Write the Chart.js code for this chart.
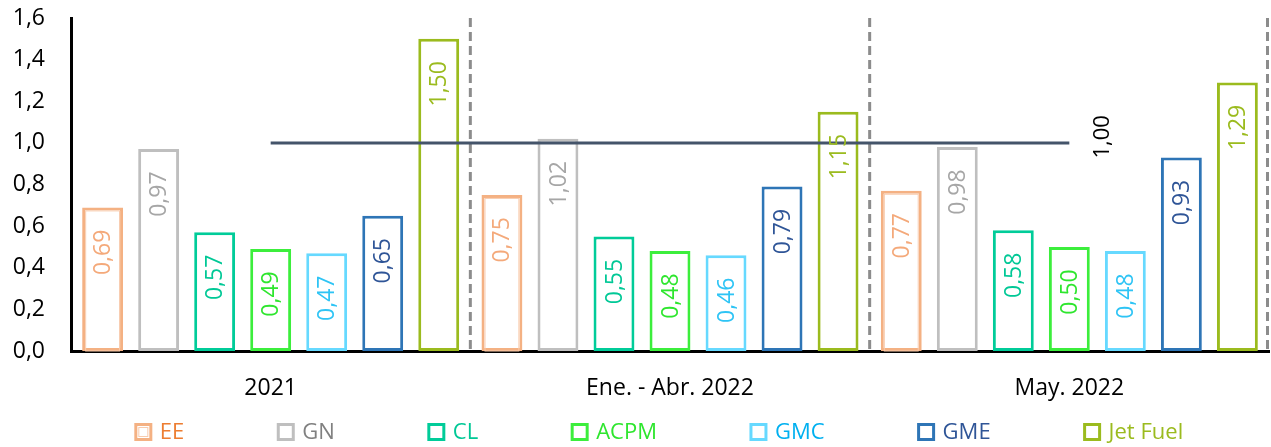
<!DOCTYPE html>
<html>
<head>
<meta charset="utf-8">
<script src="https://cdn.jsdelivr.net/npm/chart.js@4.4.1/dist/chart.umd.min.js"></script>
<style>
  html, body { margin: 0; padding: 0; background: #ffffff; }
  #wrap { width: 1271px; height: 447px; position: relative; }
</style>
</head>
<body>
<div id="wrap"><canvas id="c" width="1271" height="447"></canvas></div>
<script>
const categories = ["2021", "Ene. - Abr. 2022", "May. 2022"];
const seriesNames = ["EE", "GN", "CL", "ACPM", "GMC", "GME", "Jet Fuel"];
const valuesEE = [0.69, 0.75, 0.77];
const valuesGN = [0.97, 1.02, 0.98];
const valuesCL = [0.57, 0.55, 0.58];
const valuesACPM = [0.49, 0.48, 0.50];
const valuesGMC = [0.47, 0.46, 0.48];
const valuesGME = [0.65, 0.79, 0.93];
const valuesJet = [1.50, 1.15, 1.29];
const referenceValue = 1.00;
const referenceLabel = "1,00";
const yTickLabels = ["0,0", "0,2", "0,4", "0,6", "0,8", "1,0", "1,2", "1,4", "1,6"];

const borderColors = ["#F4B183", "#BFBFBF", "#00CC99", "#3CEE3C", "#66D9FF", "#2E75B6", "#9BBB1E"];
const labelColors  = ["#F4A97A", "#A6A6A6", "#00C896", "#2EE62E", "#2EC4F5", "#2F5597", "#9BBB1E"];
const legendTextColors = ["#ED7D31", "#808080", "#00C896", "#2EE62E", "#00B0F0", "#2F5597", "#9BBB1E"];
const allValues = [valuesEE, valuesGN, valuesCL, valuesACPM, valuesGMC, valuesGME, valuesJet];

const FONT = "'Open Sans', sans-serif";
const fmt = (v, d) => v.toFixed(d).replace('.', ',');

const datasets = seriesNames.map((name, i) => ({
  label: name,
  data: allValues[i],
  backgroundColor: "#ffffff",
  borderColor: borderColors[i],
  borderWidth: 3,
  borderSkipped: false,
  categoryPercentage: 0.982,
  barPercentage: 0.73
}));

function drawLegend(chart) {
  const ctx = chart.ctx;
  ctx.save();
  ctx.font = "22px " + FONT;
  ctx.textBaseline = "middle";
  ctx.textAlign = "left";
  const box = 15, gapText = 9, gapItem = 94;
  const widths = seriesNames.map(n => box + gapText + ctx.measureText(n).width);
  const total = widths.reduce((a, b) => a + b, 0) + gapItem * (seriesNames.length - 1);
  let x = (chart.width - total) / 2 + 24;
  const cy = 432;
  seriesNames.forEach((n, i) => {
    ctx.fillStyle = "#ffffff";
    ctx.strokeStyle = borderColors[i];
    ctx.lineWidth = 3;
    ctx.fillRect(x, cy - box / 2, box, box);
    ctx.strokeRect(x, cy - box / 2, box, box);
    if (i === 0) {
      ctx.strokeStyle = "#F8CBAD";
      ctx.lineWidth = 1;
      ctx.strokeRect(x + 3, cy - box / 2 + 3, box - 6, box - 6);
    }
    ctx.fillStyle = legendTextColors[i];
    ctx.fillText(n, x + box + gapText, cy + 1);
    x += widths[i] + gapItem;
  });
  ctx.restore();
}

const overlay = {
  id: 'overlay',
  afterDatasetsDraw(chart) {
    const ctx = chart.ctx;
    const xs = chart.scales.x, ys = chart.scales.y;
    const area = chart.chartArea;
    ctx.save();
    // EE inner line (double border)
    const meta0 = chart.getDatasetMeta(0);
    meta0.data.forEach(bar => {
      const w = bar.width;
      const l = bar.x - w / 2 + 3.5, r = bar.x + w / 2 - 3.5;
      ctx.strokeStyle = "#F8CBAD";
      ctx.lineWidth = 1;
      ctx.strokeRect(l, bar.y + 3.5, r - l, bar.base - bar.y - 3.5);
    });
    // dashed separators
    ctx.strokeStyle = "#8C8C8C";
    ctx.lineWidth = 3;
    ctx.setLineDash([9, 5]);
    const seps = [];
    for (let i = 0; i < categories.length - 1; i++) {
      seps.push((xs.getPixelForValue(i) + xs.getPixelForValue(i + 1)) / 2);
    }
    seps.push(area.right - 1.5);
    seps.forEach(x => {
      ctx.beginPath();
      ctx.moveTo(x, area.top);
      ctx.lineTo(x, area.bottom);
      ctx.stroke();
    });
    ctx.setLineDash([]);
    // reference line
    const yRef = ys.getPixelForValue(referenceValue);
    const x0 = xs.getPixelForValue(0), x1 = xs.getPixelForValue(categories.length - 1);
    ctx.strokeStyle = "#44546A";
    ctx.lineWidth = 3;
    ctx.beginPath();
    ctx.moveTo(x0, yRef);
    ctx.lineTo(x1, yRef);
    ctx.stroke();
    ctx.fillStyle = "#000000";
    ctx.font = "22px " + FONT;
    ctx.textAlign = "center";
    ctx.textBaseline = "middle";
    ctx.save();
    ctx.translate(x1 + 33, yRef - 6);
    ctx.rotate(-Math.PI / 2);
    ctx.fillText(referenceLabel, 0, 0);
    ctx.restore();
    // data labels
    chart.data.datasets.forEach((ds, di) => {
      const meta = chart.getDatasetMeta(di);
      meta.data.forEach((bar, j) => {
        const mid = (bar.y + bar.base) / 2;
        const cy = Math.min(bar.y + 45, mid);
        ctx.save();
        ctx.translate(bar.x, cy);
        ctx.rotate(-Math.PI / 2);
        ctx.fillStyle = labelColors[di];
        ctx.font = "23px " + FONT;
        ctx.textAlign = "center";
        ctx.textBaseline = "middle";
        ctx.fillText(fmt(ds.data[j], 2), 0, 1);
        ctx.restore();
      });
    });
    ctx.restore();
  },
  afterDraw(chart) { drawLegend(chart); }
};

new Chart(document.getElementById('c'), {
  type: 'bar',
  data: { labels: categories, datasets },
  options: {
    responsive: false,
    animation: false,
    devicePixelRatio: 1,
    layout: { padding: { top: 18, right: 2, left: 0, bottom: 0 } },
    plugins: {
      tooltip: { enabled: false },
      legend: { display: false }
    },
    scales: {
      x: {
        grid: { display: false, drawTicks: false },
        border: { display: true, color: "#000000", width: 3 },
        ticks: { font: { family: FONT, size: 23 }, color: "#000000", padding: 24 },
        afterFit(scale) { scale.height = 96; }
      },
      y: {
        min: 0, max: 1.6,
        grid: { display: false, drawTicks: false },
        border: { display: true, color: "#000000", width: 3 },
        ticks: {
          stepSize: 0.2,
          font: { family: FONT, size: 23 },
          color: "#000000",
          padding: 26,
          callback: (v, idx) => yTickLabels[idx]
        },
        afterFit(scale) { scale.width = 71; scale.paddingTop = 0; scale.paddingBottom = 0; }
      }
    }
  },
  plugins: [overlay]
});
</script>
</body>
</html>
